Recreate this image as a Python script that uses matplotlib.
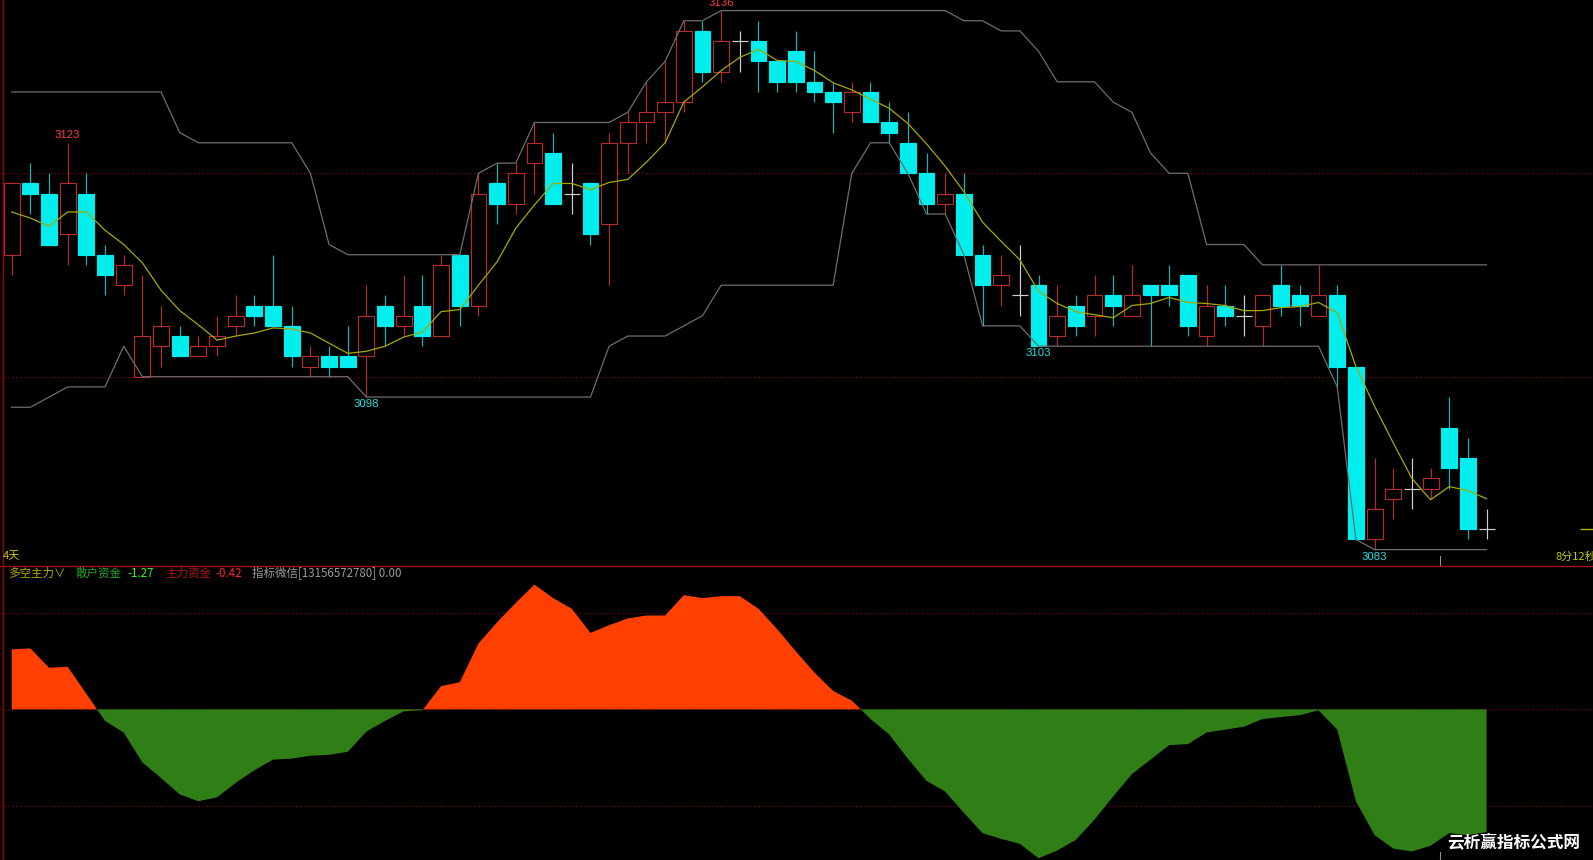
import matplotlib
matplotlib.use("Agg")
import matplotlib.pyplot as plt
from matplotlib.patches import Rectangle
from matplotlib.lines import Line2D
import numpy as np

# ---------------- data ----------------
opens = [3112, 3119, 3118, 3114, 3118, 3112, 3109, 3100, 3103, 3104,
         3102, 3103, 3105, 3107, 3107, 3105, 3101, 3102, 3102, 3102,
         3107, 3105, 3107, 3104, 3112, 3107, 3119, 3117, 3121, 3122,
         3118, 3119, 3115, 3123, 3125, 3126, 3127, 3134, 3130, 3133,
         3133, 3131, 3132, 3129, 3128, 3126, 3128, 3125, 3123, 3120,
         3117, 3118, 3112, 3109, 3108, 3109, 3104, 3107, 3106, 3108,
         3106, 3109, 3109, 3110, 3104, 3107, 3106, 3105, 3109, 3108,
         3106, 3108, 3101, 3084, 3088, 3089, 3089, 3095, 3092, 3085]
closes = [3119, 3118, 3113, 3119, 3112, 3110, 3111, 3104, 3105, 3102,
          3103, 3104, 3106, 3106, 3105, 3102, 3102, 3101, 3101, 3106,
          3105, 3106, 3104, 3111, 3107, 3118, 3117, 3120, 3123, 3117,
          3118, 3114, 3123, 3125, 3126, 3127, 3134, 3130, 3133, 3133,
          3131, 3129, 3129, 3128, 3127, 3128, 3125, 3124, 3120, 3117,
          3118, 3112, 3109, 3110, 3108, 3103, 3106, 3105, 3108, 3107,
          3108, 3108, 3108, 3105, 3107, 3106, 3106, 3108, 3107, 3107,
          3108, 3101, 3084, 3087, 3089, 3089, 3090, 3091, 3085, 3085]
highs = [3119, 3121, 3120, 3123, 3120, 3113, 3112, 3110, 3107, 3105,
         3104, 3106, 3108, 3108, 3112, 3107, 3103, 3103, 3105, 3109,
         3108, 3110, 3110, 3112, 3112, 3120, 3121, 3121, 3125, 3124,
         3121, 3119, 3124, 3126, 3129, 3131, 3135, 3135, 3136, 3134,
         3135, 3131, 3134, 3132, 3129, 3129, 3129, 3127, 3126, 3122,
         3120, 3120, 3113, 3112, 3113, 3110, 3109, 3108, 3110, 3110,
         3111, 3109, 3111, 3110, 3109, 3109, 3108, 3108, 3111, 3109,
         3111, 3109, 3101, 3092, 3091, 3092, 3091, 3098, 3094, 3087]
lows = [3110, 3116, 3113, 3111, 3111, 3108, 3108, 3100, 3101, 3102,
        3102, 3102, 3104, 3105, 3105, 3101, 3100, 3100, 3101, 3098,
        3103, 3104, 3103, 3104, 3105, 3106, 3115, 3116, 3118, 3117,
        3116, 3113, 3109, 3120, 3123, 3123, 3126, 3129, 3129, 3130,
        3128, 3128, 3128, 3127, 3124, 3125, 3125, 3123, 3120, 3116,
        3116, 3112, 3105, 3107, 3106, 3103, 3103, 3104, 3104, 3105,
        3106, 3103, 3107, 3104, 3103, 3105, 3104, 3103, 3106, 3105,
        3106, 3099, 3084, 3083, 3086, 3087, 3088, 3089, 3084, 3084]
ma5 = [3116.2, 3115.6, 3114.8, 3116.2, 3116.2, 3114.4, 3113.0, 3111.2, 3108.5, 3106.5,
       3105.1, 3103.6, 3104.0, 3104.3, 3104.8, 3104.7, 3104.3, 3103.3, 3102.3, 3102.5,
       3103.0, 3103.9, 3104.4, 3106.4, 3106.6, 3109.0, 3111.3, 3114.6, 3116.9, 3119.0,
       3119.0, 3118.4, 3119.1, 3119.4, 3121.1, 3123.0, 3127.0, 3128.5, 3130.1, 3131.4,
       3132.2, 3131.1, 3131.0, 3130.1, 3128.9, 3128.2, 3127.3, 3126.4, 3124.9, 3122.9,
       3120.7, 3118.2, 3115.2, 3113.3, 3111.5, 3108.4, 3107.2, 3106.4, 3106.1, 3105.8,
       3107.0, 3107.2, 3107.8, 3107.3, 3107.2, 3107.0, 3106.5, 3106.5, 3106.8, 3106.9,
       3107.3, 3106.3, 3101.0, 3097.1, 3093.5, 3090.0, 3087.9, 3089.2, 3088.8, 3088.0]
upper = ([3128] * 9 + [3124] + [3123] * 6 + [3120, 3113] + [3112] * 7 + [3120] +
         [3121] * 2 + [3125] * 5 + [3126, 3129, 3131] + [3135] * 2 + [3136] * 13 +
         [3135] * 2 + [3134] * 2 + [3132] + [3129] * 3 + [3127, 3126, 3122] +
         [3120] * 2 + [3113] * 3 + [3111] * 13)
lower = ([3097] * 2 + [3098] + [3099] * 3 + [3103] + [3100] * 12 + [3098] * 13 +
         [3103] + [3104] * 3 + [3105, 3106] + [3109] * 7 + [3120] + [3123] * 2 +
         [3120] + [3116] * 2 + [3112] + [3105] * 3 + [3103] * 16 + [3099, 3084] +
         [3083] * 7)
fund = [0.62, 0.63, 0.43, 0.44, 0.16, -0.12, -0.24, -0.55, -0.71, -0.88,
        -0.95, -0.91, -0.76, -0.63, -0.52, -0.51, -0.48, -0.47, -0.44, -0.23,
        -0.12, -0.02, -0.01, 0.24, 0.28, 0.68, 0.90, 1.10, 1.29, 1.15,
        1.04, 0.79, 0.87, 0.94, 0.97, 0.97, 1.18, 1.15, 1.17, 1.17,
        1.04, 0.83, 0.60, 0.38, 0.19, 0.09, -0.10, -0.26, -0.51, -0.74,
        -0.85, -1.07, -1.28, -1.34, -1.39, -1.54, -1.46, -1.35, -1.14, -0.90,
        -0.67, -0.52, -0.37, -0.36, -0.24, -0.21, -0.18, -0.10, -0.08, -0.06,
        -0.01, -0.21, -0.95, -1.30, -1.44, -1.47, -1.41, -1.28, -1.30, -1.27]
price_grid = [3120, 3100]
fund_grid = [1.0, 0.0, -1.0]
high_marks = [3, 38]
low_marks = [19, 55, 73]

# ---------------- style ----------------
RED = "#b82a2a"
CYAN = "#00eeee"
CYAN_W = "#10b8b8"
DOJI = "#d0d0d0"
GRAY = "#6e6e6e"
YEL = "#a8a800"
GRID = "#9a0000"
AREA_UP = "#ff4000"
AREA_DN = "#2f7e16"
CJK = ["Noto Sans CJK SC", "DejaVu Sans"]

W, H = 1593, 860
SEP = 565.7
fig = plt.figure(figsize=(W / 100, H / 100), dpi=100, facecolor="black")
ax = fig.add_axes([0, 1 - SEP / H, 1, SEP / H])
axb = fig.add_axes([0, 0, 1, (H - SEP) / H])
for a in (ax, axb):
    a.set_facecolor("black")
    a.set_axis_off()
    a.set_xlim(-0.627, 84.70)
ax.set_ylim(3081.42, 3137.04)
axb.set_ylim(-1.558, 1.485)

n = len(opens)
xs = np.arange(n)
bw = 0.85
lw = 0.85

for g in price_grid:
    ax.axhline(g, color=GRID, lw=0.8, ls=(0, (1, 2.5)), zorder=0)

for i in range(n):
    o, h, l, c = opens[i], highs[i], lows[i], closes[i]
    if c > o:
        ax.vlines(i, c, h, color=RED, lw=lw, zorder=2)
        ax.vlines(i, l, o, color=RED, lw=lw, zorder=2)
        ax.add_patch(Rectangle((i - bw / 2, o), bw, c - o, fc="black", ec=RED, lw=lw, zorder=2))
    elif c < o:
        ax.vlines(i, l, h, color=CYAN_W, lw=lw, zorder=2)
        ax.add_patch(Rectangle((i - bw / 2, c), bw, o - c, fc=CYAN, ec=CYAN, lw=lw, zorder=2))
    else:
        ax.vlines(i, l, h, color=DOJI, lw=lw, zorder=2)
        ax.hlines(o, i - bw / 2, i + bw / 2, color=DOJI, lw=lw, zorder=2)

ax.plot(xs, upper, color=GRAY, lw=0.9, zorder=3)
ax.plot(xs, lower, color=GRAY, lw=0.9, zorder=3)
ax.plot(xs, ma5, color=YEL, lw=0.9, zorder=4)

for i in high_marks:
    ax.annotate(f"{highs[i]}", (i, highs[i]), xytext=(0, 3), textcoords="offset pixels",
                ha="center", va="bottom", color="#ff3c3c", fontsize=8.2,
                family="Liberation Sans", zorder=5, annotation_clip=False)
for i in low_marks:
    ax.annotate(f"{lows[i]}", (i, lows[i]), xytext=(0, -2), textcoords="offset pixels",
                ha="center", va="top", color="#20e0e0", fontsize=8.2,
                family="Liberation Sans", zorder=5, annotation_clip=False)

# last price marker at the right edge
ax.hlines(closes[-1], 84.0, 84.7, color="#b0b000", lw=1.0, zorder=3)

# ---------------- lower panel ----------------
for g in fund_grid:
    axb.axhline(g, color=GRID, lw=0.8, ls=(0, (1, 2.5)), zorder=0)
fv = np.array(fund)
axb.fill_between(xs, 0, fv, where=fv >= 0, interpolate=True, color=AREA_UP, lw=0, zorder=2)
axb.fill_between(xs, 0, fv, where=fv <= 0, interpolate=True, color=AREA_DN, lw=0, zorder=2)

# ---------------- frame lines ----------------
fig.add_artist(Line2D([0, 1], [1 - SEP / H] * 2, color="#a01010", lw=1.0, transform=fig.transFigure))
fig.add_artist(Line2D([2.7 / W] * 2, [0, 1], color="#a00000", lw=1.0, transform=fig.transFigure))
fig.add_artist(Line2D([1440 / W] * 2, [1 - 556 / H, 1 - 565 / H], color="#909090", lw=0.8, transform=fig.transFigure))
fig.add_artist(Line2D([1440 / W] * 2, [1 - 852 / H, 0], color="#909090", lw=0.8, transform=fig.transFigure))


def ptxt(x, y, s, color, size, **kw):
    fig.text(x / W, 1 - y / H, s, color=color, fontsize=size, ha=kw.pop("ha", "left"),
             va=kw.pop("va", "center"), family=kw.pop("family", CJK), **kw)


ptxt(3, 556.5, "4天", "#c8c800", 8.0)
ptxt(1555, 556.5, "8分12秒", "#c8c800", 8.0)

hy = 573.3
ptxt(8.3, hy, "多空主力∨", "#b4ac00", 8.3)
ptxt(76, hy, "散户资金", "#22a822", 8.3)
ptxt(127.3, hy, "-1.27", "#22ff22", 8.3)
ptxt(165, hy, "主力资金", "#b01414", 8.3)
ptxt(215.7, hy, "-0.42", "#ff2424", 8.3)
ptxt(252.3, hy, "指标微信[13156572780] 0.00", "#9c9c9c", 8.3)

ptxt(1514, 842.5, "云析赢指标公式网", "white", 12.0, ha="center", fontweight="bold")

fig.savefig("out.png", dpi=100, facecolor="black")
